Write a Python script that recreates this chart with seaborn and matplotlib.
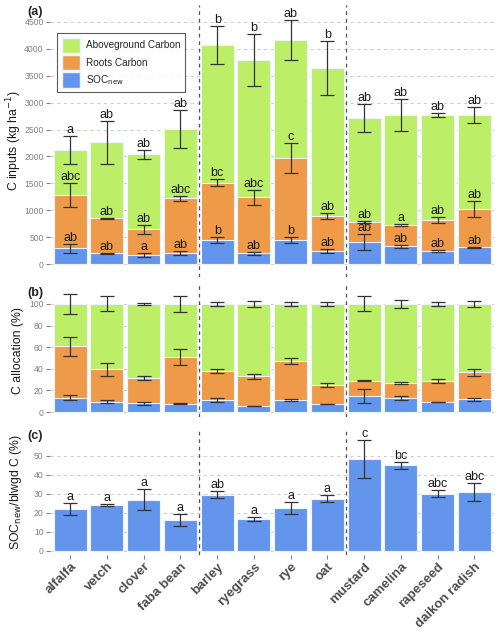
import matplotlib
matplotlib.use("Agg")
import matplotlib.pyplot as plt
import pandas as pd
import seaborn as sns
from matplotlib.patches import Patch

crops = ["alfalfa", "vetch", "clover", "faba bean", "barley", "ryegrass",
         "rye", "oat", "mustard", "camelina", "rapeseed", "daikon radish"]

# panel a: C inputs (kg ha-1)
total_c = [2120, 2262, 2040, 2505, 4066, 3793, 4165, 3644, 2708, 2770, 2770, 2770]
total_err = [255, 405, 80, 355, 350, 480, 370, 510, 260, 305, 45, 150]
roots_c = [1283, 849, 645, 1221, 1512, 1240, 1977, 893, 781, 725, 818, 1023]
roots_err = [230, 15, 80, 50, 60, 140, 280, 55, 20, 15, 50, 155]
soc_c = [291, 198, 167, 198, 446, 198, 446, 248, 403, 335, 248, 310]
soc_err = [85, 10, 35, 37, 50, 20, 55, 40, 150, 28, 15, 12]
total_letters = ["a", "ab", "ab", "ab", "b", "b", "ab", "b", "ab", "ab", "ab", "ab"]
roots_letters = ["abc", "ab", "ab", "abc", "bc", "abc", "c", "ab", "ab", "a", "ab", "ab"]
soc_letters = ["ab", "ab", "a", "ab", "b", "ab", "b", "ab", "ab", "ab", "ab", "ab"]

# panel b: C allocation (%)
alloc_above = [100] * 12
alloc_above_err = [9.5, 7, 0.6, 7.4, 2.2, 2.5, 2.2, 2.2, 7, 4, 1.5, 2.5]
alloc_roots = [60.8, 39.5, 31.5, 50.9, 38, 33, 47.2, 25, 29, 26.9, 29, 36.7]
alloc_roots_err = [9, 6, 2, 7.7, 1.7, 2.3, 3, 1.8, 0.3, 1.2, 1.7, 3.5]
alloc_soc = [13.3, 9.6, 8, 7.7, 11.1, 5.6, 11.1, 7.4, 14.8, 13, 9.3, 11.7]
alloc_soc_err = [2.3, 1.7, 1.2, 0.3, 1.7, 0.3, 1, 0.3, 6.3, 2.2, 0.3, 1.4]

# panel c: SOCnew / belowground C (%)
ratio = [21.9, 23.9, 27, 16.1, 29.5, 16.8, 22.5, 27.5, 48.3, 44.9, 30, 30.9]
ratio_err = [3.1, 0.5, 5.5, 3.2, 1.9, 0.9, 3, 2, 10, 1.7, 1.9, 4.5]
ratio_letters = ["a", "a", "a", "a", "ab", "a", "a", "a", "c", "bc", "abc", "abc"]

green = "#BCEE68"
orange = "#EE9A49"
blue = "#6495ED"
grid_col = "#d0d0d0"
tick_col = "#808080"

sns.set_theme(style="white")
plt.rcParams['font.family'] = ['Liberation Sans', 'DejaVu Sans']

fig = plt.figure(figsize=(5.0, 6.34), dpi=100)
W, H = 500, 634


def add_ax(top, bottom, left=50, right=496.5):
    return fig.add_axes([left / W, 1 - bottom / H, (right - left) / W, (bottom - top) / H])


ax_a = add_ax(5, 277)
ax_b = add_ax(285, 417)
ax_c = add_ax(428, 555)


def layer(ax, vals, errs, color, letters=None):
    df = pd.DataFrame({'crop': crops, 'val': vals})
    sns.barplot(data=df, x='crop', y='val', order=crops, color=color, width=0.9,
                saturation=1, edgecolor="#eef4ff", linewidth=0.8, ax=ax, zorder=2)
    ax.errorbar(range(len(crops)), vals, yerr=errs, fmt='none', ecolor="#333333",
                elinewidth=0.9, capsize=5, capthick=0.9, zorder=4)
    if letters is not None:
        for i, (v, e, t) in enumerate(zip(vals, errs, letters)):
            ax.text(i, v + e, t, ha='center', va='bottom', fontsize=9,
                    color="#1a1a1a", zorder=5)


layer(ax_a, total_c, total_err, green, total_letters)
layer(ax_a, roots_c, roots_err, orange, roots_letters)
layer(ax_a, soc_c, soc_err, blue, soc_letters)

layer(ax_b, alloc_above, alloc_above_err, green)
layer(ax_b, alloc_roots, alloc_roots_err, orange)
layer(ax_b, alloc_soc, alloc_soc_err, blue)

layer(ax_c, ratio, ratio_err, blue, ratio_letters)

ax_a.set_ylim(-240, 4815)
ax_a.set_yticks(range(0, 4501, 500))
ax_b.set_ylim(-4.6, 117.5)
ax_b.set_yticks(range(0, 101, 20))
ax_c.set_ylim(-2.1, 64.5)
ax_c.set_yticks(range(0, 51, 10))

for ax in (ax_a, ax_b, ax_c):
    ax.set_xlim(-0.55, 11.6)
    for s in ax.spines.values():
        s.set_visible(False)
    ax.grid(axis='y', color=grid_col, linestyle=(0, (3, 3)), linewidth=0.8)
    ax.set_axisbelow(True)
    ax.tick_params(axis='y', left=True, length=3, width=0.8, color=tick_col,
                   labelcolor=tick_col, labelsize=6.2, pad=1.5)
    ax.set_xlabel('')
    for xv in (3.5, 7.5):
        ax.axvline(xv, color="#555555", linestyle=(0, (3, 3)), linewidth=0.9, zorder=1)

for ax in (ax_a, ax_b):
    ax.tick_params(axis='x', bottom=False, labelbottom=False)

ax_c.tick_params(axis='x', bottom=True, length=3, width=0.8, color=tick_col, pad=1)
ax_c.set_xticks(range(len(crops)))
ax_c.set_xticklabels(crops, rotation=45, ha='right', rotation_mode='anchor',
                     fontsize=9.5, fontweight='bold', color="#4d4d4d")

ax_a.set_ylabel(r"C inputs (kg ha$^{-1}$)", fontsize=8.8, color="#1a1a1a")
ax_b.set_ylabel("C allocation (%)", fontsize=8.8, color="#1a1a1a")
ax_c.set_ylabel(r"SOC$_{\mathrm{new}}$/blwgd C (%)", fontsize=8.8, color="#1a1a1a")
for ax in (ax_a, ax_b, ax_c):
    ax.yaxis.set_label_coords(-0.058, 0.5)

handles = [Patch(facecolor=green, edgecolor="#eef4ff", label="Aboveground Carbon"),
           Patch(facecolor=orange, edgecolor="#eef4ff", label="Roots Carbon"),
           Patch(facecolor=blue, edgecolor="#eef4ff", label=r"SOC$_{\mathrm{new}}$")]
leg = ax_a.legend(handles=handles, loc='upper left', bbox_to_anchor=(0.016, 0.897),
                  borderaxespad=0, fontsize=7.2, frameon=True, fancybox=False,
                  handlelength=1.8, handleheight=2.0, handletextpad=0.6,
                  labelspacing=0.2, borderpad=0.45, edgecolor="#333333")
leg.get_frame().set_linewidth(0.8)
leg.set_zorder(6)

fig.text(27 / W, 1 - 12 / H, "(a)", fontsize=9, fontweight='bold', va='center')
fig.text(27 / W, 1 - 293 / H, "(b)", fontsize=9, fontweight='bold', va='center')
fig.text(27 / W, 1 - 436 / H, "(c)", fontsize=9, fontweight='bold', va='center')

fig.savefig("out.png", dpi=100)
